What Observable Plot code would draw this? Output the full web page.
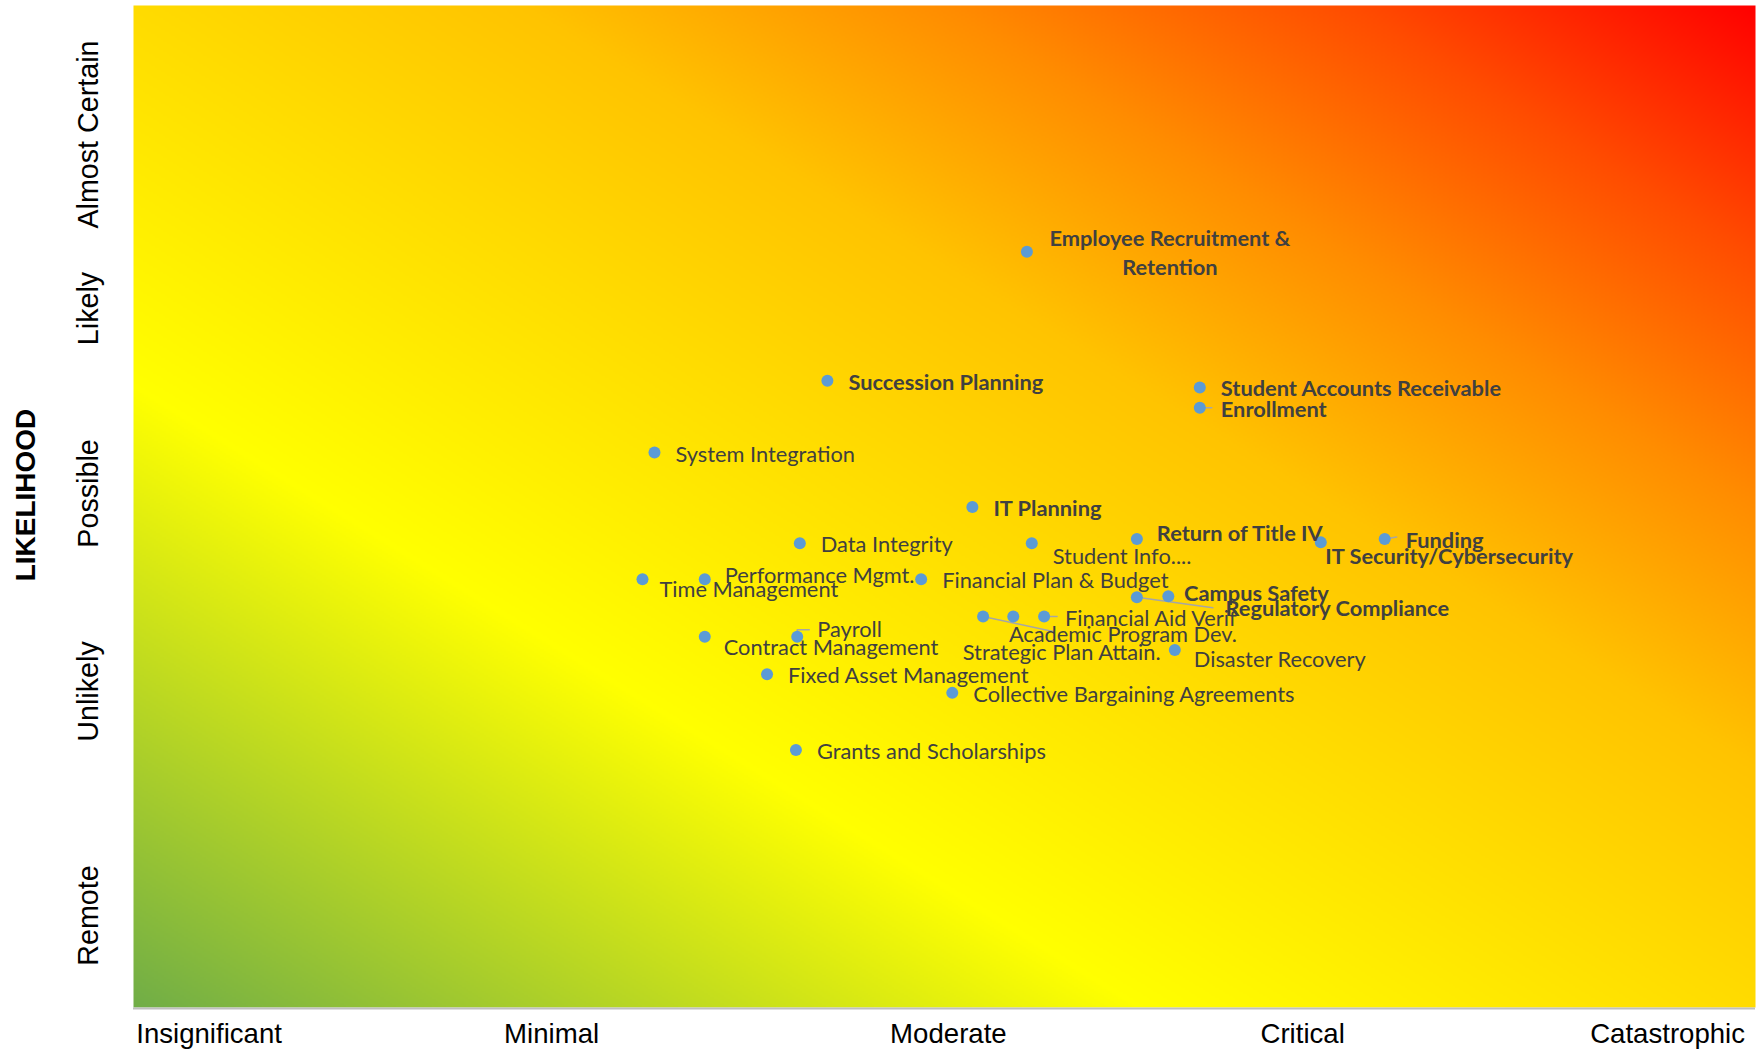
<!DOCTYPE html>
<html>
<head>
<meta charset="utf-8">
<script src="https://cdn.jsdelivr.net/npm/d3@7"></script>
<script src="https://cdn.jsdelivr.net/npm/@observablehq/plot@0.6"></script>
<style>
  html, body { margin: 0; padding: 0; background: #ffffff; overflow: hidden; }
  #chart svg { display: block; }
</style>
</head>
<body>
<div id="chart"></div>
<script>
// ---- Data ----
const impactLabels = ["Insignificant", "Minimal", "Moderate", "Critical", "Catastrophic"];
const impactTicks = [0.233, 1.289, 2.512, 3.604, 4.729];
const likelihoodLabels = ["Remote", "Unlikely", "Possible", "Likely", "Almost Certain"];
const likelihoodTicks = [0.459, 1.577, 2.565, 3.488, 4.356];

const risks = [
  "Employee Recruitment & Retention", "Succession Planning", "Student Accounts Receivable",
  "Enrollment", "System Integration", "IT Planning", "Data Integrity", "Student Info....",
  "Return of Title IV", "IT Security/Cybersecurity", "Funding", "Time Management",
  "Performance Mgmt.", "Financial Plan & Budget", "Regulatory Compliance", "Campus Safety",
  "Academic Program Dev.", "Strategic Plan Attain.", "Financial Aid Verif", "Contract Management",
  "Payroll", "Disaster Recovery", "Fixed Asset Management", "Collective Bargaining Agreements",
  "Grants and Scholarships"
];
const impact = [
  2.754, 2.139, 3.287, 3.287, 1.606, 2.586, 2.054, 2.769,
  3.093, 3.660, 3.857, 1.569, 1.761, 2.428, 3.093, 3.190,
  2.619, 2.712, 2.807, 1.761, 2.046, 3.210, 1.953, 2.524, 2.042
];
const likelihood = [
  3.771, 3.127, 3.094, 2.993, 2.769, 2.497, 2.317, 2.317,
  2.338, 2.321, 2.338, 2.137, 2.137, 2.137, 2.047, 2.052,
  1.951, 1.951, 1.951, 1.850, 1.850, 1.784, 1.663, 1.570, 1.285
];
const highPriority = [
  true, true, true, true, false, true, false, false,
  true, true, true, false, false, false, true, true,
  false, false, false, false, false, false, false, false, false
];

// ---- Layout (label placement, in pixels) ----
const W = 1759, H = 1055, ML = 133, MR = 4, MT = 5, MB = 48;
const defaultNudge = [21, 2];
const labelNudges = {
  "Employee Recruitment & Retention": [143, -1],
  "Student Info....": [21, 13.5],
  "Return of Title IV": [20, -4.5],
  "IT Security/Cybersecurity": [4.5, 14.6],
  "Time Management": [17, 11],
  "Performance Mgmt.": [20, -3.4],
  "Regulatory Compliance": [88.6, 12],
  "Campus Safety": [15.7, -2],
  "Academic Program Dev.": [25.8, 18],
  "Strategic Plan Attain.": [-50.5, 36],
  "Contract Management": [19, 11],
  "Payroll": [20, -6.7],
  "Disaster Recovery": [19, 10]
};
const labelText = {"Employee Recruitment & Retention": "Employee Recruitment &\nRetention"};
const leaderPaths = {
  "Academic Program Dev.": [[0, 0], [70, 15]],
  "Regulatory Compliance": [[0, 0], [76, 10.5]],
  "Payroll": [[0, 0], [0, -7], [12, -7]],
  "Funding": [[0, 0], [12, -2]],
  "Financial Aid Verif": [[0, 0], [13, 0]],
  "Enrollment": [[0, 0], [12, 0]]
};
const gradientStops = [0, 0.31, 0.5, 0.62, 0.75, 0.875, 1];
const gradientColors = ["#70ad47", "#ffff00", "#ffdb00", "#ffc300", "#ff8c00", "#ff4c00", "#ff0000"];

// ---- Build ----
const xDomain = [0, 5], yDomain = [0, 5];
const kx = (xDomain[1] - xDomain[0]) / (W - ML - MR);
const ky = (yDomain[1] - yDomain[0]) / (H - MT - MB);

const rows = risks.map((name, i) => {
  const [dx, dy] = labelNudges[name] ?? defaultNudge;
  return {
    name, x: impact[i], y: likelihood[i], bold: highPriority[i],
    lx: impact[i] + dx * kx, ly: likelihood[i] - dy * ky,
    label: labelText[name] ?? name
  };
});
const leaders = [];
for (const r of rows) {
  const p = leaderPaths[r.name];
  if (!p) continue;
  for (const [px, py] of p) leaders.push({name: r.name, x: r.x + px * kx, y: r.y - py * ky});
}

const grad = d3.scaleLinear().domain(gradientStops).range(gradientColors).interpolate(d3.interpolateRgb).clamp(true);

const centered = rows.filter(d => d.label.includes("\n"));
const plain = rows.filter(d => !d.label.includes("\n"));

const labelFont = "Lato, 'Open Sans', sans-serif";
const labelSize = 21.8;

const chart = Plot.plot({
  width: W, height: H,
  marginLeft: ML, marginRight: MR, marginTop: MT, marginBottom: MB,
  x: {domain: xDomain},
  y: {domain: yDomain, axis: null},
  color: {type: "identity"},
  style: {fontFamily: "'Liberation Sans', Arial, sans-serif", background: "transparent", color: "#000"},
  marks: [
    Plot.raster({
      fill: (x, y) => grad(((x - xDomain[0]) / (xDomain[1] - xDomain[0]) + (y - yDomain[0]) / (yDomain[1] - yDomain[0])) / 2),
      x1: xDomain[0], x2: xDomain[1], y1: yDomain[0], y2: yDomain[1],
      pixelSize: 2
    }),
    Plot.ruleY([yDomain[0]], {stroke: "#bfbfbf", strokeWidth: 2, dy: 1}),
    Plot.axisX({
      ticks: impactTicks, tickSize: 0, tickPadding: 15.5, fontSize: 27.6, fill: "#000",
      tickFormat: d => impactLabels[impactTicks.indexOf(d)], label: null
    }),
    Plot.text(likelihoodTicks, {
      y: d => d, text: (d, i) => likelihoodLabels[i], frameAnchor: "left", textAnchor: "middle",
      dx: -45, rotate: -90, fontSize: 28.7, fill: "#000"
    }),
    Plot.text(["LIKELIHOOD"], {
      text: d => d, frameAnchor: "left", textAnchor: "middle", dx: -107, dy: -11.5, rotate: -90,
      fontSize: 28, fontWeight: "bold", fill: "#000"
    }),
    Plot.line(leaders, {x: "x", y: "y", z: "name", stroke: "#a6a6a6", strokeWidth: 1.5}),
    Plot.dot(rows, {x: "x", y: "y", r: 6, fill: "#5b9bd5"}),
    Plot.text(plain.filter(d => !d.bold), {
      x: "lx", y: "ly", text: "label", textAnchor: "start",
      fontFamily: labelFont, fontSize: labelSize, fill: "#404040"
    }),
    Plot.text(plain.filter(d => d.bold), {
      x: "lx", y: "ly", text: "label", textAnchor: "start",
      fontFamily: labelFont, fontSize: labelSize, fontWeight: "bold", fill: "#404040"
    }),
    Plot.text(centered, {
      x: "lx", y: "ly", text: "label", textAnchor: "middle", lineHeight: 1.33,
      fontFamily: labelFont, fontSize: labelSize, fontWeight: "bold", fill: "#404040"
    })
  ]
});
document.getElementById("chart").appendChild(chart);
</script>
</body>
</html>
